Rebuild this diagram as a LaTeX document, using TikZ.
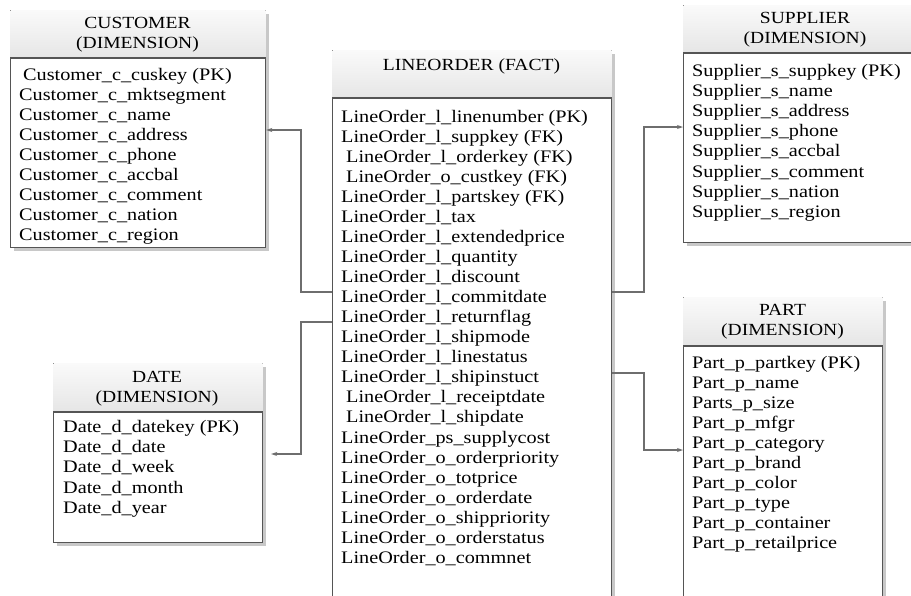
\documentclass[tikz,border=0pt]{standalone}
\usepackage{fontspec}
\setmainfont{Liberation Serif}[FakeStretch=1.15]
\usetikzlibrary{shadows,calc,arrows.meta}
\definecolor{bordc}{HTML}{555555}
\definecolor{connc}{HTML}{6E6E6E}
\definecolor{shadc}{HTML}{C8C8C8}
\tikzset{
  tbox/.style={draw=bordc, line width=1.2pt, fill=white, inner sep=0pt, anchor=north west,
    drop shadow={shadow xshift=3pt, shadow yshift=-3pt, fill=shadc, opacity=1}},
  rowtxt/.style={anchor=base west, inner sep=0pt, font=\fontsize{17.6}{20}\selectfont},
  headtxt/.style={align=center, inner sep=0pt, font=\fontsize{17}{20}\selectfont},
  headfill/.style={top color=gray!4, bottom color=gray!20},
  sepline/.style={draw=bordc, line width=1.2pt},
  conn/.style={draw=connc, line width=1.4pt},
  arr/.style={-{Stealth[length=6pt,width=4pt]}}
}
\begin{document}
\begin{tikzpicture}[x=1pt,y=-1pt]
\useasboundingbox (0,0) rectangle (911,595);

% ---------- CUSTOMER ----------
\node[tbox, minimum width=255pt, minimum height=237pt] (cust) at (10,10) {};
\shade[headfill] ($(cust.north west)+(0.6,0.6)$) rectangle ($(cust.north east)+(-0.6,48)$);
\draw[sepline] ($(cust.north west)+(0,48)$) -- ($(cust.north east)+(0,48)$);
\node[headtxt] (custh) at (137.5,34.5) {CUSTOMER\\(DIMENSION)};
\foreach \x/\t [count=\i] in {
  23/Customer\_c\_cuskey (PK),
  19/Customer\_c\_mktsegment,
  19/Customer\_c\_name,
  19/Customer\_c\_address,
  19/Customer\_c\_phone,
  19/Customer\_c\_accbal,
  19/Customer\_c\_comment,
  19/Customer\_c\_nation,
  19/Customer\_c\_region}
  \node[rowtxt] (cust-\i) at (\x, 80.5+20*\i-20) {\t};

% ---------- LINEORDER ----------
\node[tbox, minimum width=279pt, minimum height=560pt] (lo) at (332,50) {};
\shade[headfill] ($(lo.north west)+(0.6,0.6)$) rectangle ($(lo.north east)+(-0.6,48)$);
\draw[sepline] ($(lo.north west)+(0,48)$) -- ($(lo.north east)+(0,48)$);
\node[headtxt] (loh) at (471.5,66) {LINEORDER (FACT)};
\foreach \x/\t [count=\i] in {
  341/LineOrder\_l\_linenumber (PK),
  341/LineOrder\_l\_suppkey (FK),
  346/LineOrder\_l\_orderkey (FK),
  346/LineOrder\_o\_custkey (FK),
  341/LineOrder\_l\_partskey (FK),
  341/LineOrder\_l\_tax,
  341/LineOrder\_l\_extendedprice,
  341/LineOrder\_l\_quantity,
  341/LineOrder\_l\_discount,
  341/LineOrder\_l\_commitdate,
  341/LineOrder\_l\_returnflag,
  341/LineOrder\_l\_shipmode,
  341/LineOrder\_l\_linestatus,
  341/LineOrder\_l\_shipinstuct,
  346/LineOrder\_l\_receiptdate,
  346/LineOrder\_l\_shipdate,
  341/LineOrder\_ps\_supplycost,
  341/LineOrder\_o\_orderpriority,
  341/LineOrder\_o\_totprice,
  341/LineOrder\_o\_orderdate,
  341/LineOrder\_o\_shippriority,
  341/LineOrder\_o\_orderstatus,
  341/LineOrder\_o\_commnet}
  \node[rowtxt] (lo-\i) at (\x, 122.2+20.05*\i-20.05) {\t};

% ---------- SUPPLIER ----------
\node[tbox, minimum width=244pt, minimum height=237pt] (sup) at (683,5) {};
\shade[headfill] ($(sup.north west)+(0.6,0.6)$) rectangle ($(sup.north east)+(-0.6,48)$);
\draw[sepline] ($(sup.north west)+(0,48)$) -- ($(sup.north east)+(0,48)$);
\node[headtxt] (suph) at (805,30) {SUPPLIER\\(DIMENSION)};
\foreach \t [count=\i] in {
  Supplier\_s\_suppkey (PK),
  Supplier\_s\_name,
  Supplier\_s\_address,
  Supplier\_s\_phone,
  Supplier\_s\_accbal,
  Supplier\_s\_comment,
  Supplier\_s\_nation,
  Supplier\_s\_region}
  \node[rowtxt] (sup-\i) at (692, 76.5+20.1*\i-20.1) {\t};

% ---------- PART ----------
\node[tbox, minimum width=199pt, minimum height=310pt] (part) at (683,297) {};
\shade[headfill] ($(part.north west)+(0.6,0.6)$) rectangle ($(part.north east)+(-0.6,49)$);
\draw[sepline] ($(part.north west)+(0,49)$) -- ($(part.north east)+(0,49)$);
\node[headtxt] (parth) at (782.5,322) {PART\\(DIMENSION)};
\foreach \t [count=\i] in {
  Part\_p\_partkey (PK),
  Part\_p\_name,
  Parts\_p\_size,
  Part\_p\_mfgr,
  Part\_p\_category,
  Part\_p\_brand,
  Part\_p\_color,
  Part\_p\_type,
  Part\_p\_container,
  Part\_p\_retailprice}
  \node[rowtxt] (part-\i) at (692, 368.5+20*\i-20) {\t};

% ---------- DATE ----------
\node[tbox, minimum width=209pt, minimum height=179pt] (date) at (53,363) {};
\shade[headfill] ($(date.north west)+(0.6,0.6)$) rectangle ($(date.north east)+(-0.6,49)$);
\draw[sepline] ($(date.north west)+(0,49)$) -- ($(date.north east)+(0,49)$);
\node[headtxt] (dateh) at (157,389) {DATE\\(DIMENSION)};
\foreach \t [count=\i] in {
  Date\_d\_datekey (PK),
  Date\_d\_date,
  Date\_d\_week,
  Date\_d\_month,
  Date\_d\_year}
  \node[rowtxt] (date-\i) at (63, 432.5+20.2*\i-20.2) {\t};

% ---------- connectors ----------
\coordinate (lA) at (0,292);
\coordinate (lB) at (0,322);
\coordinate (rB) at (0,373);
\coordinate (cA) at (301,130);
\coordinate (dA) at (301,454);
\coordinate (sA) at (644,127);
\coordinate (pA) at (644,450);
\draw[conn,arr] (lo.west |- lA) -| (cA) -- (cust.east |- cA);
\draw[conn,arr] (lo.west |- lB) -| (dA) -- ($(date.east |- dA)+(8,0)$);
\draw[conn,arr] (lo.east |- lA) -| (sA) -- (sup.west |- sA);
\draw[conn,arr] (lo.east |- rB) -| (pA) -- (part.west |- pA);
\end{tikzpicture}
\end{document}
